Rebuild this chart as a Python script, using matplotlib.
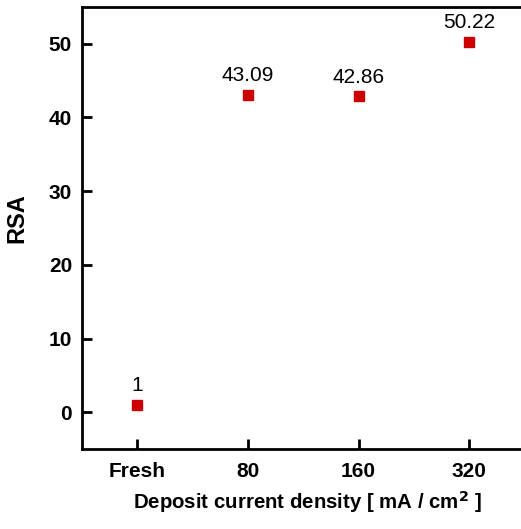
import matplotlib.pyplot as plt

plt.rcParams['font.family'] = ['Liberation Sans', 'DejaVu Sans']

categories = ['Fresh', '80', '160', '320']
rsa = [1, 43.09, 42.86, 50.22]
labels = ['1', '43.09', '42.86', '50.22']

fig = plt.figure(figsize=(5.21, 5.29), dpi=100)
ax = fig.add_axes([0.157, 0.151, 0.85, 0.836])

x = list(range(len(categories)))
ax.plot(x, rsa, 's', color='#cc0000', markersize=6.5, linestyle='none')
for xi, yi, lab in zip(x, rsa, labels):
    ax.annotate(lab, (xi, yi), xytext=(0, 7), textcoords='offset points',
                ha='center', va='bottom', fontsize=15)

ax.set_xlim(-0.5, 3.5)
ax.set_ylim(-5, 55)
ax.set_xticks(x)
ax.set_xticklabels(categories)
ax.set_yticks([0, 10, 20, 30, 40, 50])

for s in ['left', 'top', 'bottom']:
    ax.spines[s].set_linewidth(2)
ax.spines['right'].set_visible(False)
ax.tick_params(direction='in', length=7, width=2, labelsize=15)
for t in ax.get_xticklabels() + ax.get_yticklabels():
    t.set_fontweight('bold')
ax.tick_params(axis='x', pad=9)
ax.tick_params(axis='y', pad=7)

ax.set_ylabel('RSA', fontsize=17, fontweight='bold')
ax.yaxis.set_label_coords(-0.12, 0.523)
ax.set_xlabel('Deposit current density [ mA / cm$^\\mathbf{2}$ ]',
              fontsize=14.7, fontweight='bold')
ax.xaxis.set_label_coords(0.51, -0.09)

fig.savefig('out.png', dpi=100)
